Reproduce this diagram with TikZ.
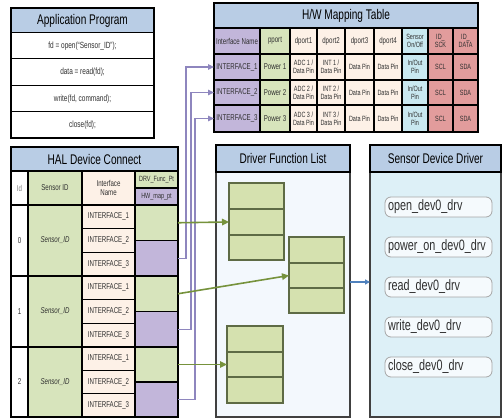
\documentclass[tikz,border=0pt]{standalone}
\usepackage{fontspec}
\setmainfont{Liberation Sans}[FakeStretch=0.72]
\usetikzlibrary{arrows.meta,calc}
\definecolor{tblue}{HTML}{B9CDE5}
\definecolor{lav}{HTML}{C2B6DA}
\definecolor{grn}{HTML}{D7E4BC}
\definecolor{peach}{HTML}{FDF1E7}
\definecolor{cyanc}{HTML}{C9E8F0}
\definecolor{salm}{HTML}{E29C9C}
\definecolor{dflbg}{HTML}{F3F8FD}
\definecolor{sddbg}{HTML}{DDF0F7}
\definecolor{stfill}{HTML}{D5E1AF}
\definecolor{stline}{HTML}{5E6B45}
\definecolor{pline}{HTML}{8E86BE}
\definecolor{garrow}{HTML}{76923C}
\definecolor{barrow}{HTML}{4F81BD}
\definecolor{txt}{HTML}{303030}
\newcommand\fs[2]{\fontsize{#1}{#2}\selectfont}
\newcommand\cbox[7]{\node[#1, minimum width={(#4)-(#2)}, minimum height={(#5)-(#3)}] (#6) at ({((#2)+(#4))/2},{((#3)+(#5))/2}) {#7};}
\tikzset{
  cell/.style={draw=black, line width=1.1pt, inner sep=0pt, outer sep=0pt, align=center, text=txt, font=\fs{8.5}{9.5}},
  small/.style={cell, font=\fs{7.6}{8.2}},
  ttl/.style={cell, fill=tblue, text=black, font=\fs{14}{16}},
  arow/.style={cell, fill=white, line width=1pt, font=\fs{9}{10}},
  frame/.style={draw=black, line width=1.6pt},
  stcell/.style={draw=stline, fill=stfill, line width=1.2pt, inner sep=0pt, outer sep=0pt},
  item/.style={draw=gray!70, fill=white!70!sddbg, rounded corners=6pt, line width=0.8pt, text width=101pt, align=left, inner xsep=3pt, inner ysep=0pt, minimum height=20pt, font=\fs{15}{17}, text=txt},
  parrow/.style={draw=pline, line width=1.3pt, -{Triangle[length=6pt,width=5.5pt]}},
  garr/.style={draw=garrow, line width=1.6pt, -{Triangle[length=7pt,width=6.5pt]}},
  barr/.style={draw=barrow, line width=1.2pt, -{Triangle[length=5pt,width=5pt]}}
}
\begin{document}
\begin{tikzpicture}[x=1pt,y=-1pt]
\useasboundingbox (0,0) rectangle (503,419);
\fill[white] (0,0) rectangle (503,419);

% Application Program
\cbox{ttl}{11}{8}{154}{33}{app}{Application Program}
\cbox{arow}{11}{33}{154}{59}{a1}{fd = open(“Sensor\_ID”);}
\cbox{arow}{11}{59}{154}{86}{a2}{data = read(fd);}
\cbox{arow}{11}{86}{154}{112}{a3}{write(fd, command);}
\cbox{arow}{11}{112}{154}{138}{a4}{close(fd);}
\draw[frame] (app.north west) rectangle (a4.south east);

% H/W Mapping Table
\cbox{ttl}{214}{3}{478}{28}{hwt}{H/W Mapping Table}
\cbox{cell,fill=lav}{214}{28}{260}{54}{h1}{Interface Name}
\cbox{cell,fill=grn}{260}{28}{290}{54}{h2}{pport}
\cbox{cell,fill=peach}{290}{28}{317}{54}{h3}{dport1}
\cbox{cell,fill=peach}{317}{28}{345}{54}{h4}{dport2}
\cbox{cell,fill=peach}{345}{28}{374}{54}{h5}{dport3}
\cbox{cell,fill=peach}{374}{28}{402}{54}{h6}{dport4}
\cbox{small,fill=cyanc}{402}{28}{428}{54}{h7}{Sensor\\On/Off}
\cbox{small,fill=salm}{428}{28}{453}{54}{h8}{ID\_\\SCK}
\cbox{small,fill=salm}{453}{28}{478}{54}{h9}{ID\_\\DATA}
\foreach \k/\ya/\yb in {1/54/80,2/80/105,3/105/132}{
  \cbox{cell,fill=lav}{214}{\ya}{260}{\yb}{hw\k}{INTERFACE\_\k}
  \cbox{cell,fill=grn}{260}{\ya}{290}{\yb}{pp\k}{Power \k}
  \cbox{small,fill=peach}{290}{\ya}{317}{\yb}{da\k}{ADC \k\ /\\Data Pin}
  \cbox{small,fill=peach}{317}{\ya}{345}{\yb}{db\k}{INT \k\ /\\Data Pin}
  \cbox{small,fill=peach}{345}{\ya}{374}{\yb}{dc\k}{Data Pin}
  \cbox{small,fill=peach}{374}{\ya}{402}{\yb}{dd\k}{Data Pin}
  \cbox{small,fill=cyanc}{402}{\ya}{428}{\yb}{io\k}{In/Out\\Pin}
  \cbox{small,fill=salm}{428}{\ya}{453}{\yb}{sc\k}{SCL}
  \cbox{small,fill=salm}{453}{\ya}{478}{\yb}{sd\k}{SDA}
}
\draw[frame] (hwt.north west) rectangle (sd3.south east);

% HAL Device Connect
\cbox{ttl}{11}{147}{178}{171}{hal}{HAL Device Connect}
\cbox{cell,fill=white}{11}{171}{28}{205}{hid}{\textcolor{gray}{Id}}
\cbox{cell,fill=grn}{28}{171}{82}{205}{hsid}{Sensor ID}
\cbox{cell,fill=peach}{82}{171}{135}{205}{hin}{Interface\\Name}
\cbox{small,fill=grn}{135}{171}{178}{188}{hdrv}{DRV\_Func\_Pt}
\cbox{small,fill=lav}{135}{188}{178}{205}{hhw}{HW\_map\_pt}
\foreach \g/\ya/\yb in {0/205/276,1/276/347,2/347/417}{
  \pgfmathsetmacro\ha{\ya+(\yb-\ya)/3}
  \pgfmathsetmacro\hb{\ya+2*(\yb-\ya)/3}
  \pgfmathsetmacro\hm{(\ya+\yb)/2}
  \cbox{cell,fill=white}{11}{\ya}{28}{\yb}{id\g}{\g}
  \cbox{cell,fill=grn}{28}{\ya}{82}{\yb}{sid\g}{\textit{Sensor\_ID}}
  \cbox{cell,fill=peach}{82}{\ya}{135}{\ha}{ia\g}{INTERFACE\_1}
  \cbox{cell,fill=peach}{82}{\ha}{135}{\hb}{ib\g}{INTERFACE\_2}
  \cbox{cell,fill=peach}{82}{\hb}{135}{\yb}{ic\g}{INTERFACE\_3}
  \cbox{cell,fill=grn}{135}{\ya}{178}{\hm}{gg\g}{}
  \cbox{cell,fill=lav}{135}{\hm}{178}{\yb}{pp\g}{}
}
\draw[frame] (hal.north west) rectangle (pp2.south east);

% Driver Function List
\cbox{cell,fill=dflbg,draw=black!75}{216}{145}{350}{417}{dfl}{}
\cbox{ttl}{216}{145}{350}{172}{dflt}{Driver Function List}
\cbox{stcell}{229}{183}{284}{209}{s1a}{}
\cbox{stcell}{229}{209}{284}{235}{s1b}{}
\cbox{stcell}{229}{235}{284}{260}{s1c}{}
\cbox{stcell}{289}{237}{344}{263}{s2a}{}
\cbox{stcell}{289}{263}{344}{288}{s2b}{}
\cbox{stcell}{289}{288}{344}{313}{s2c}{}
\cbox{stcell}{227}{326}{283}{352}{s3a}{}
\cbox{stcell}{227}{352}{283}{377}{s3b}{}
\cbox{stcell}{227}{377}{283}{403}{s3c}{}

% Sensor Device Driver
\cbox{cell,fill=sddbg,draw=black!75}{370}{145}{501}{417}{sdd}{}
\cbox{ttl}{370}{145}{501}{172}{sddt}{Sensor Device Driver}
\node[item] (f1) at (438.5,207) {open\_dev0\_drv};
\node[item] (f2) at (438.5,247) {power\_on\_dev0\_drv};
\node[item] (f3) at (438.5,287) {read\_dev0\_drv};
\node[item] (f4) at (438.5,327) {write\_dev0\_drv};
\node[item] (f5) at (438.5,367) {close\_dev0\_drv};

% connectors HAL -> H/W table
\draw[parrow] (pp0.east) -- ++(8,0) |- (hw1.west);
\draw[parrow] (pp1.east) -- ++(13,0) |- (hw2.west);
\draw[parrow] (pp2.east) -- ++(17,0) |- (hw3.west);

% connectors HAL -> driver function list
\draw[garr] (gg0.east) -- (s1b.west);
\draw[garr] (gg1.east) -- (s2b.west);
\draw[garr] (gg2.east) -- (s3b.west);

% driver function list -> sensor device driver
\coordinate (bst) at (350,282);
\draw[barr] (bst) -- (bst -| sdd.west);
\end{tikzpicture}
\end{document}
